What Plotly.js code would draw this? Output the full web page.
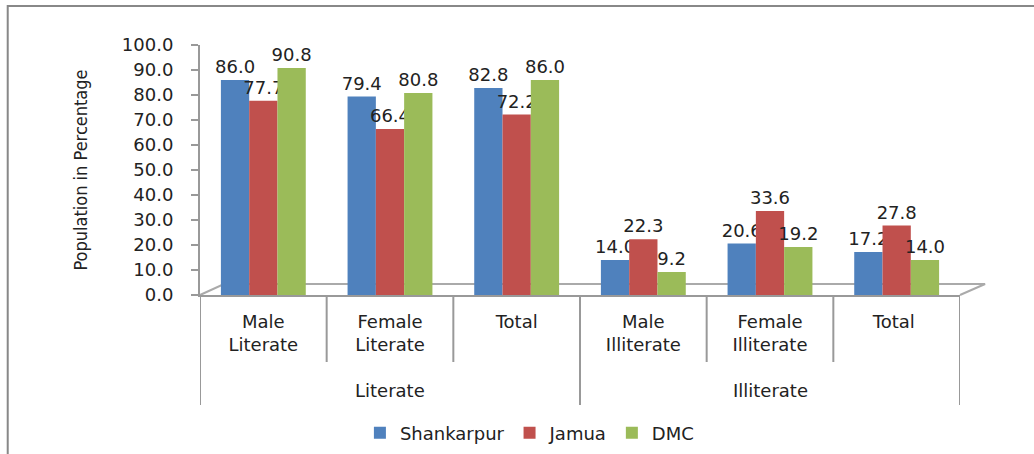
<!DOCTYPE html>
<html>
<head>
<meta charset="utf-8">
<script src="https://cdn.plot.ly/plotly-3.0.1.min.js"></script>
<style>html,body{margin:0;padding:0;background:#fff;}#chart{width:1034px;height:454px;}</style>
</head>
<body>
<div id="chart"></div>
<script>
const groups = ["Literate", "Illiterate"];
const groupSizes = [3, 3];
const categories = ["Male<br>Literate", "Female<br>Literate", "Total", "Male<br>Illiterate", "Female<br>Illiterate", "Total "];
const shankarpur = [86.0, 79.4, 82.8, 14.0, 20.6, 17.2];
const jamua = [77.7, 66.4, 72.2, 22.3, 33.6, 27.8];
const dmc = [90.8, 80.8, 86.0, 9.2, 19.2, 14.0];
const seriesNames = ["Shankarpur", "Jamua", "DMC"];
const colors = ["#4F81BD", "#C0504D", "#9BBB59"];

const font = "DejaVu Sans, Verdana, sans-serif";
const traces = [shankarpur, jamua, dmc].map((vals, i) => ({
  type: "bar",
  name: seriesNames[i],
  x: categories,
  y: vals,
  marker: {color: colors[i], line: {width: 0}},
  text: vals.map(v => v.toFixed(1)),
  textposition: "outside",
  constraintext: "none",
  textangle: 0,
  textfont: {family: font, size: 18, color: "#222"},
  cliponaxis: false,
  hoverinfo: "skip"
}));

const divColor = "#999";
const shapes = [
  {type: "rect", xref: "paper", yref: "paper", x0: -0.253, x1: 1.2, y0: -0.8, y1: 1.156, line: {color: "#888", width: 2}, fillcolor: "rgba(0,0,0,0)", layer: "below"},
  {type: "path", xref: "paper", yref: "paper", path: "M 0 0 L 0.0316 0.044 L 1.033 0.044 L 1 0", line: {color: "#aaa", width: 2}, layer: "below"}
];
const groupEdges = [0];
groupSizes.forEach(s => groupEdges.push(groupEdges[groupEdges.length - 1] + s));
for (let i = 0; i <= categories.length; i++) {
  const isGroup = groupEdges.includes(i);
  shapes.push({type: "line", xref: "x", yref: "paper", x0: i - 0.5, x1: i - 0.5, y0: 0, y1: isGroup ? -0.44 : -0.268,
               line: {color: divColor, width: 2}});
}
const annotations = groups.map((g, gi) => ({
  xref: "x", yref: "paper", x: (groupEdges[gi] + groupEdges[gi + 1] - 1) / 2, y: -0.38,
  text: g, showarrow: false, xanchor: "center", yanchor: "middle",
  font: {family: font, size: 18, color: "#222"}
}));

const layout = {
  width: 1034, height: 454,
  margin: {l: 200, r: 74, t: 45, b: 159},
  paper_bgcolor: "#fff", plot_bgcolor: "#fff",
  barmode: "group", bargap: 0.33, bargroupgap: 0,
  showlegend: true,
  legend: {orientation: "h", xref: "container", yref: "container", x: 0.512, xanchor: "center", y: 0.046, yanchor: "middle",
           font: {family: font, size: 18, color: "#222"}, itemwidth: 30, traceorder: "normal"},
  xaxis: {type: "category", range: [-0.5, categories.length - 0.5], showline: true, linecolor: divColor, linewidth: 2,
          ticks: "", ticklabelstandoff: 9,
          tickfont: {family: font, size: 18, color: "#222"}, showgrid: false, zeroline: false},
  yaxis: {range: [0, 100], dtick: 10, tickformat: ".1f", showline: true, linecolor: divColor, linewidth: 2,
          ticks: "outside", ticklen: 7, tickcolor: divColor, tickwidth: 2, ticklabelstandoff: 14,
          showgrid: false, zeroline: false,
          tickfont: {family: font, size: 18, color: "#222"},
          title: {text: "Population in Percentage", font: {family: "DejaVu Sans Condensed, Liberation Sans Narrow, sans-serif", size: 18, color: "#222"}, standoff: 30}},
  shapes: shapes,
  annotations: annotations
};

Plotly.newPlot("chart", traces, layout, {displayModeBar: false, staticPlot: true});
</script>
</body>
</html>
